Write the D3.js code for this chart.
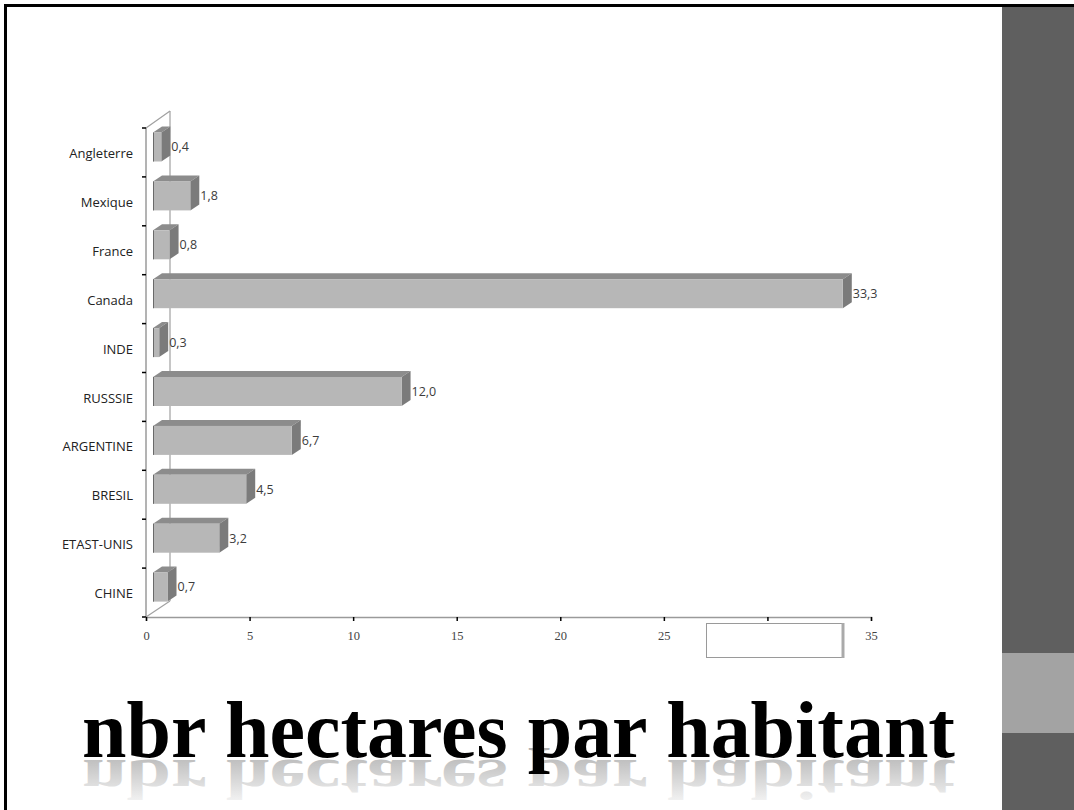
<!DOCTYPE html>
<html><head><meta charset="utf-8">
<script src="https://cdn.jsdelivr.net/npm/d3@7"></script>
<style>html,body{margin:0;padding:0;background:#fff;}svg{display:block;}</style>
</head><body>
<script>
const categories = ["Angleterre","Mexique","France","Canada","INDE","RUSSSIE","ARGENTINE","BRESIL","ETAST-UNIS","CHINE"];
const values = [0.4,1.8,0.8,33.3,0.3,12.0,6.7,4.5,3.2,0.7];
const xTicks = [0,5,10,15,20,25,30,35];
const title = "nbr hectares par habitant";

const W = 1074, H = 810;
const svg = d3.select("body").append("svg").attr("width", W).attr("height", H);

// slide decoration
svg.append("rect").attr("x",1002).attr("y",7).attr("width",72).attr("height",H-7).attr("fill","#5f5f5f");
svg.append("rect").attr("x",1002).attr("y",653).attr("width",72).attr("height",80).attr("fill","#a3a3a3");
svg.append("line").attr("x1",4).attr("x2",W).attr("y1",5.5).attr("y2",5.5).attr("stroke","#000").attr("stroke-width",3);
svg.append("line").attr("x1",5.5).attr("x2",5.5).attr("y1",4).attr("y2",H).attr("stroke","#000").attr("stroke-width",3);

const x = d3.scaleLinear().domain([0,35]).range([146,871]);
const y = d3.scaleBand().domain(categories).range([128,617]).padding(0);
const dx = 9, dy = 6, off = 7, barTop = 4.5, barH = 29;
const fmt = v => d3.format(".1f")(v).replace(".", ",");

const g = svg.append("g");
// walls
g.append("line").attr("x1",170).attr("x2",170).attr("y1",111).attr("y2",601).attr("stroke","#a0a0a0").attr("stroke-width",1.2);
g.append("line").attr("x1",146).attr("x2",170).attr("y1",128).attr("y2",111).attr("stroke","#a0a0a0").attr("stroke-width",1.2);
g.append("line").attr("x1",146).attr("x2",170).attr("y1",617).attr("y2",601).attr("stroke","#a0a0a0").attr("stroke-width",1.2);

// bars
const data = categories.map((c,i)=>({c, v: values[i]}));
const bars = g.selectAll("g.bar").data(data).join("g").attr("class","bar");
bars.each(function(d){
  const s = d3.select(this);
  const x0 = x(0)+off, x1 = x(d.v)+off, yf = y(d.c)+barTop, h = barH;
  s.append("polygon").attr("points",[[x0,yf],[x0+dx,yf-dy],[x1+dx,yf-dy],[x1,yf]].join(" ")).attr("fill","#8c8c8c");
  s.append("polygon").attr("points",[[x1,yf],[x1+dx,yf-dy],[x1+dx,yf+h-dy],[x1,yf+h]].join(" ")).attr("fill","#7b7b7b");
  s.append("rect").attr("x",x0).attr("y",yf).attr("width",x1-x0).attr("height",h).attr("fill","#b7b7b7");
  s.append("line").attr("x1",x0+0.5).attr("x2",x0+0.5).attr("y1",yf).attr("y2",yf+h).attr("stroke","#6a6a6a").attr("stroke-width",1);
  s.append("text").attr("x",x1+dx+1).attr("y",y(d.c)+19).attr("dy","0.35em")
    .attr("font-family","'Open Sans', sans-serif").attr("font-size",12.5).attr("fill","#3c3c3c").text(fmt(d.v));
});

// y axis
g.append("line").attr("x1",146).attr("x2",146).attr("y1",128).attr("y2",617).attr("stroke","#9a9a9a").attr("stroke-width",1.5);
const yTickPos = categories.map(c=>y(c)).concat([617]);
g.selectAll("line.yt").data(yTickPos).join("line").attr("class","yt")
  .attr("x1",142).attr("x2",146).attr("y1",d=>d).attr("y2",d=>d).attr("stroke","#000").attr("stroke-width",1.5);
g.selectAll("text.yl").data(categories).join("text").attr("class","yl")
  .attr("x",133).attr("y",d=>y(d)+y.bandwidth()/2+1).attr("dy","0.35em").attr("text-anchor","end")
  .attr("font-family","'Open Sans', sans-serif").attr("font-size",13).attr("fill","#222").text(d=>d);

// x axis
const xAxis = d3.axisBottom(x).tickValues(xTicks).tickSize(4).tickFormat(d3.format("d"));
const xa = svg.append("g").attr("transform","translate(0,617)").call(xAxis);
xa.select(".domain").attr("stroke","#9a9a9a").attr("stroke-width",1.5);
xa.selectAll(".tick line").attr("stroke","#000").attr("stroke-width",1.5);
xa.selectAll(".tick text").attr("y",14).attr("font-family","'Liberation Serif', serif").attr("font-size",12.5).attr("fill","#444");

// empty legend box
svg.append("rect").attr("x",706.5).attr("y",623.5).attr("width",136).attr("height",34).attr("fill","#fff").attr("stroke","#9a9a9a").attr("stroke-width",1);
svg.append("line").attr("x1",843).attr("x2",843).attr("y1",623).attr("y2",658).attr("stroke","#aaaaaa").attr("stroke-width",3);

// title with reflection
const defs = svg.append("defs");
const grad = defs.append("linearGradient").attr("id","refl").attr("x1",0).attr("x2",0).attr("y1",0).attr("y2",1);
grad.append("stop").attr("offset","0%").attr("stop-color","#ffffff");
grad.append("stop").attr("offset","100%").attr("stop-color","#909090");
const baseY = 757;
svg.append("text").attr("x",82).attr("y",baseY).attr("transform",`translate(0,${baseY+3}) scale(1,-0.72) translate(0,${-baseY})`)
  .attr("font-family","'Liberation Serif', serif").attr("font-weight","bold").attr("font-size",80)
  .attr("textLength",873).attr("lengthAdjust","spacingAndGlyphs").attr("fill","url(#refl)").attr("opacity",0.7).text(title);
svg.append("text").attr("x",82).attr("y",baseY)
  .attr("font-family","'Liberation Serif', serif").attr("font-weight","bold").attr("font-size",80)
  .attr("textLength",873).attr("lengthAdjust","spacingAndGlyphs").attr("fill","#000").text(title);
</script>
</body></html>
